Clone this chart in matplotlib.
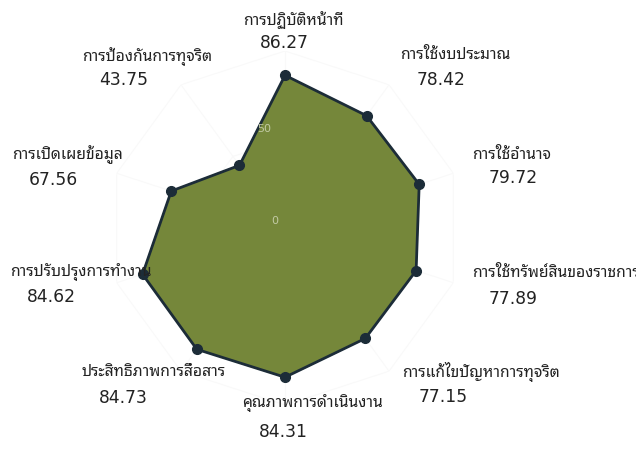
import numpy as np
import matplotlib
matplotlib.use("Agg")
import matplotlib.pyplot as plt

# categories clockwise from the top
labels = ["การปฏิบัติหน้าที่", "การใช้งบประมาณ", "การใช้อำนาจ",
          "การใช้ทรัพย์สินของราชการ", "การแก้ไขปัญหาการทุจริต",
          "คุณภาพการดำเนินงาน", "ประสิทธิภาพการสื่อสาร",
          "การปรับปรุงการทำงาน", "การเปิดเผยข้อมูล", "การป้องกันการทุจริต"]
scores = [86.27, 78.42, 79.72, 77.89, 77.15, 84.31, 84.73, 84.62, 67.56, 43.75]
rticks = [0, 50, 100]
rtick_labels = ["0", "50", ""]

# where each label block sits (left edge px, label centre y px, value centre y px)
label_pos = [(243, 20, 43), (400, 55, 80), (472, 155, 178), (472, 273, 299),
             (402, 372, 397), (242, 403, 432), (82, 372, 398), (10, 272, 297),
             (12, 155, 180), (82, 57, 80)]

W, H = 636, 450
fig = plt.figure(figsize=(W / 100, H / 100), dpi=100)

cx, cy, R = 285, 228, 177
ax = fig.add_axes([(cx - R) / W, (H - cy - R) / H, 2 * R / W, 2 * R / H], projection="polar")
ax.set_theta_zero_location("N")
ax.set_theta_direction(-1)
ax.set_ylim(0, 100)

n = len(scores)
theta = np.linspace(0, 2 * np.pi, n, endpoint=False)
th = np.append(theta, theta[0])
vals = np.append(scores, scores[0])

# barely visible polygon grid
for r in rticks[1:]:
    ax.plot(th, [r] * (n + 1), color="#f9f9f9", lw=0.8, zorder=1)
for t in theta:
    ax.plot([t, t], [0, 100], color="#f9f9f9", lw=0.8, zorder=1)
ax.grid(False)
ax.spines["polar"].set_visible(False)
ax.set_xticks([])
ax.set_yticks([])

ax.fill(th, vals, color="#75873a", zorder=3)
ax.plot(th, vals, color="#1c2c38", lw=2, zorder=4)
ax.plot(theta, scores, "o", color="#1c2c38", ms=7, zorder=5)

for r, s in zip(rticks, rtick_labels):
    ang = -12 if r else -55
    ax.text(np.deg2rad(ang), r + 7, s, ha="center", va="center", fontsize=8,
            color="#c2caa4", zorder=6)

for lab, val, (x, ly, vy) in zip(labels, scores, label_pos):
    fig.text(x / W, 1 - ly / H, lab, ha="left", va="center", fontsize=11.3,
             family=["Noto Sans Thai Looped", "DejaVu Sans"], color="#222222", zorder=1)
    fig.text((x + 17) / W, 1 - vy / H, f"{val:.2f}", ha="left", va="center",
             fontsize=12.3, family="DejaVu Sans", color="#222222", zorder=1)

fig.savefig("out.png", dpi=100)
